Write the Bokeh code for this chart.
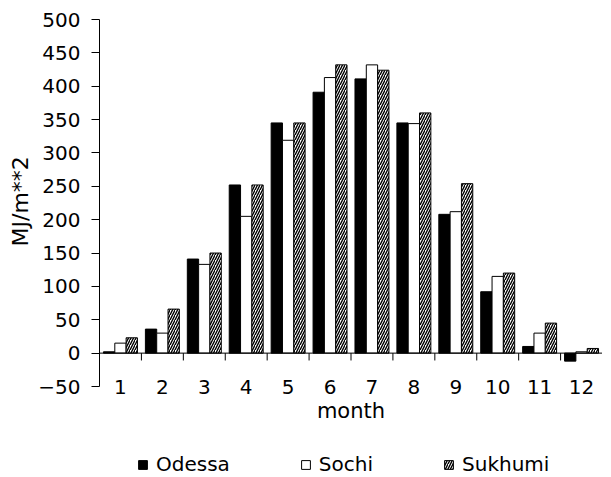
from bokeh.plotting import figure
from bokeh.models import (FactorRange, Range1d, FixedTicker, Span, Legend,
                          LegendItem, ColumnDataSource, Title)
from bokeh.transform import dodge
from bokeh.embed import file_html
from bokeh.resources import INLINE

months = ["1", "2", "3", "4", "5", "6", "7", "8", "9", "10", "11", "12"]
odessa = [2, 36, 141, 252, 345, 391, 411, 345, 208, 92, 10, -12]
sochi = [15, 30, 133, 205, 319, 413, 432, 344, 212, 115, 30, 2]
sukhumi = [23, 66, 150, 252, 345, 432, 424, 360, 254, 120, 45, 7]
y_ticks = [-50, 0, 50, 100, 150, 200, 250, 300, 350, 400, 450, 500]
series_names = ["Odessa", "Sochi", "Sukhumi"]

FONT = "DejaVu Sans"
FS = "20px"
FS_T = "21px"

# layout (pixels)
AXIS_PX = 367          # height of the -50..500 span
FRAME_W, FRAME_H = 503, 457
LEFT, TOP = 99, 19
y_lo = y_ticks[-1] - FRAME_H * (y_ticks[-1] - y_ticks[0]) / AXIS_PX

src = ColumnDataSource(dict(month=months, odessa=odessa, sochi=sochi, sukhumi=sukhumi))

p = figure(x_range=FactorRange(factors=months), y_range=Range1d(y_lo, y_ticks[-1]),
           width=LEFT + FRAME_W, height=TOP + FRAME_H,
           frame_width=FRAME_W, frame_height=FRAME_H,
           output_backend="svg", toolbar_location=None,
           min_border_left=LEFT, min_border_top=TOP, min_border_right=0, min_border_bottom=0)
p.outline_line_color = None
p.grid.visible = False
p.background_fill_color = "white"
p.border_fill_color = "white"

# y axis
p.yaxis.ticker = FixedTicker(ticks=y_ticks)
p.yaxis.bounds = (y_ticks[0], y_ticks[-1])
p.yaxis.major_tick_out = 8
p.yaxis.major_tick_in = 0
p.yaxis.minor_tick_line_color = None
p.yaxis.major_label_standoff = 11
for ax in (p.xaxis, p.yaxis):
    ax.major_label_text_font = FONT
    ax.major_label_text_font_size = FS
    ax.major_label_text_color = "black"
    ax.axis_label_text_font = FONT
    ax.axis_label_text_font_size = FS_T
    ax.axis_label_text_font_style = "normal"
    ax.axis_label_text_color = "black"
    ax.axis_line_color = "black"
    ax.major_tick_line_color = "black"

# y axis title, centred on the -50..500 span
p.add_layout(Title(text="MJ/m**2", align="left", offset=230, text_font=FONT,
                   text_font_size="22px", text_font_style="normal",
                   text_color="black", standoff=6), "left")

# x axis (labels only), placed at the bottom of the value axis
p.xaxis.fixed_location = y_ticks[0]
p.xaxis.axis_line_color = None
p.xaxis.major_tick_line_color = None
p.xaxis.major_tick_out = 0
p.xaxis.major_tick_in = 0
p.xaxis.major_label_standoff = -7
p.xaxis.axis_label = "month"
p.xaxis.axis_label_standoff = 2

w = 0.27
r1 = p.vbar(x=dodge("month", -w, range=p.x_range), top="odessa", width=w, source=src,
            fill_color="black", line_color="black", line_width=1)
r2 = p.vbar(x=dodge("month", 0, range=p.x_range), top="sochi", width=w, source=src,
            fill_color="white", line_color="black", line_width=1)
r3 = p.vbar(x=dodge("month", w, range=p.x_range), top="sukhumi", width=w, source=src,
            fill_color="white", line_color="black", line_width=1,
            hatch_pattern="/", hatch_color="black", hatch_scale=5, hatch_weight=1.4)

# axis line at zero, with category-boundary ticks
p.add_layout(Span(location=0, dimension="width", line_color="black", line_width=1))
bounds = list(range(1, len(months)))
p.segment(x0=bounds, y0=[0] * len(bounds), x1=bounds, y1=[-11] * len(bounds),
          line_color="black", line_width=1)

legend = Legend(items=[LegendItem(label=series_names[0], renderers=[r1]),
                       LegendItem(label=series_names[1], renderers=[r2]),
                       LegendItem(label=series_names[2], renderers=[r3])],
                orientation="horizontal", location=(38, 0), spacing=70,
                glyph_width=11, glyph_height=11, label_standoff=8,
                label_text_font=FONT, label_text_font_size=FS,
                label_text_color="black",
                border_line_color=None, background_fill_alpha=0,
                padding=0, margin=0)
p.add_layout(legend, "center")

open("out.html", "w").write(file_html(p, INLINE))
